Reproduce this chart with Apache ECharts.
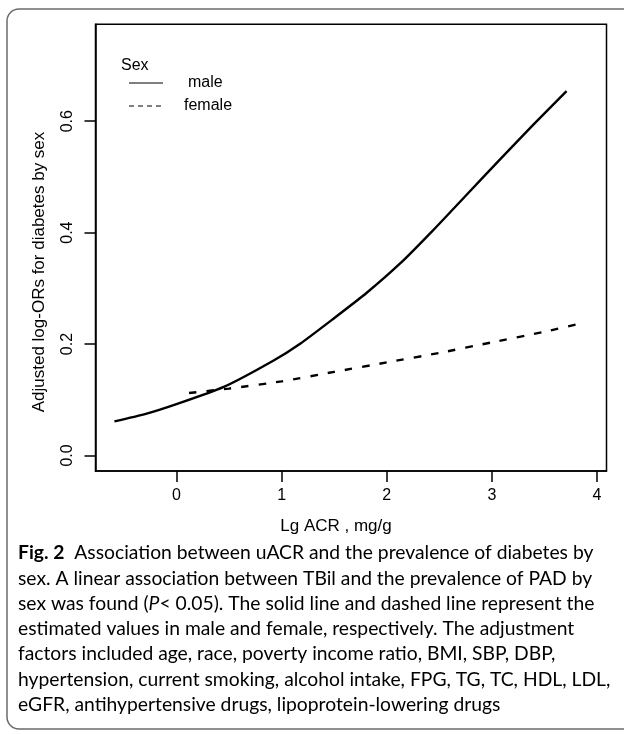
<!DOCTYPE html>
<html lang="en">
<head>
    <meta charset="UTF-8">
    <title>Fig. 2</title>
    <script src="https://cdn.jsdelivr.net/npm/echarts@6/dist/echarts.min.js"></script>
    <style type="text/css">
        *{
            padding: 0px;
            margin: 0px;
            border: 0px;
        }
        #main{
            width: 624px;
            height: 734px;
            background: #fff;
        }
    </style>
</head>
<body>
<div id="main"></div>
<script>
    // data
    var maleX = [-0.59, -0.3, 0, 0.45, 0.92, 1.18, 1.49, 1.81, 2.13, 2.44, 2.76, 3.08, 3.39, 3.71];
    var maleY = [0.061, 0.074, 0.092, 0.123, 0.170, 0.201, 0.245, 0.292, 0.345, 0.404, 0.468, 0.532, 0.593, 0.654];
    var femaleX = [0.12, 0.5, 1.0, 1.5, 2.0, 2.5, 3.0, 3.5, 3.87];
    var femaleY = [0.112, 0.120, 0.133, 0.150, 0.167, 0.184, 0.203, 0.222, 0.238];
    var xTicks = [0, 1, 2, 3, 4];
    var yTicks = [0, 0.2, 0.4, 0.6];

    var captionLines = [
        '{b|Fig. 2}{t|  Association between uACR and the prevalence of diabetes by}',
        '{t|sex. A linear association between TBil and the prevalence of PAD by}',
        '{t|sex was found (}{i|P}{t|< 0.05). The solid line and dashed line represent the}',
        '{t|estimated values in male and female, respectively. The adjustment}',
        '{t|factors included age, race, poverty income ratio, BMI, SBP, DBP,}',
        '{t|hypertension, current smoking, alcohol intake, FPG, TG, TC, HDL, LDL,}',
        '{t|eGFR, antihypertensive drugs, lipoprotein-lowering drugs}'
    ];

    function pairs(xs, ys) {
        var out = [];
        for (var i = 0; i < xs.length; i++) out.push([xs[i], ys[i]]);
        return out;
    }

    var capFont = 'Lato, "Open Sans", sans-serif';
    var capRich = {
        t: {fontFamily: capFont, fontSize: 19.3, color: '#231f20'},
        b: {fontFamily: capFont, fontSize: 19.3, fontWeight: 'bold', color: '#231f20'},
        i: {fontFamily: capFont, fontSize: 19.3, fontStyle: 'italic', color: '#231f20'}
    };

    var graphics = [
        // rounded frame round the figure
        {type: 'rect', shape: {x: 7, y: 9, width: 640, height: 720, r: 12},
            style: {fill: 'none', stroke: '#6b6b6b', lineWidth: 1.5}, z: 0},
        // legend
        {type: 'text', x: 121, y: 66, style: {text: 'Sex', font: '16px "Liberation Sans", Arial', fill: '#000', verticalAlign: 'middle'}},
        {type: 'line', shape: {x1: 129, y1: 83, x2: 163, y2: 83}, style: {stroke: '#000', lineWidth: 1.2}},
        {type: 'text', x: 188, y: 83, style: {text: 'male', font: '16px "Liberation Sans", Arial', fill: '#000', verticalAlign: 'middle'}},
        {type: 'line', shape: {x1: 129, y1: 106, x2: 163, y2: 106}, style: {stroke: '#000', lineWidth: 1.2, lineDash: [5, 4]}},
        {type: 'text', x: 184, y: 106, style: {text: 'female', font: '16px "Liberation Sans", Arial', fill: '#000', verticalAlign: 'middle'}},
        // axis titles
        {type: 'text', x: 39, y: 272, rotation: Math.PI / 2,
            style: {text: 'Adjusted log-ORs for diabetes by sex', font: '17px "Liberation Sans", Arial', fill: '#000', align: 'center', verticalAlign: 'middle'}},
        {type: 'text', x: 336, y: 526,
            style: {text: 'Lg ACR , mg/g', font: '17px "Liberation Sans", Arial', fill: '#000', align: 'center', verticalAlign: 'middle'}}
    ];
    for (var k = 0; k < captionLines.length; k++) {
        graphics.push({type: 'text', x: 18, y: 553 + k * 25.3,
            style: {text: captionLines[k], rich: capRich, verticalAlign: 'middle'}});
    }

    var chart = echarts.init(document.getElementById('main'));
    chart.setOption({
        animation: false,
        grid: {
            left: 95.5, right: 17.5, top: 24.3, bottom: 263,
            show: true, borderColor: '#000', borderWidth: 1.5, backgroundColor: 'transparent'
        },
        xAxis: {
            type: 'value', min: -0.77, max: 4.09,
            axisLine: {show: true, onZero: false, lineStyle: {color: '#000', width: 1.5}},
            axisTick: {show: true, inside: false, length: 11, customValues: xTicks, lineStyle: {color: '#000', width: 1.5}},
            axisLabel: {customValues: xTicks, fontSize: 16, fontFamily: '"Liberation Sans", Arial', color: '#000', margin: 17},
            splitLine: {show: false}
        },
        yAxis: {
            type: 'value', min: -0.028, max: 0.774,
            axisLine: {show: true, onZero: false, lineStyle: {color: '#000', width: 1.5}},
            axisTick: {show: true, inside: false, length: 11, customValues: yTicks, lineStyle: {color: '#000', width: 1.5}},
            axisLabel: {customValues: yTicks, rotate: 90, fontSize: 16, fontFamily: '"Liberation Sans", Arial', color: '#000', margin: 20,
                formatter: function (v) { return v.toFixed(1); }},
            splitLine: {show: false}
        },
        series: [
            {name: 'male', type: 'line', data: pairs(maleX, maleY), showSymbol: false, smooth: 0.2,
                lineStyle: {color: '#000', width: 2.4, type: 'solid', join: 'round'}},
            {name: 'female', type: 'line', data: pairs(femaleX, femaleY), showSymbol: false, smooth: 0.2,
                lineStyle: {color: '#000', width: 2.4, type: [7.5, 10]}}
        ],
        graphic: graphics
    });
</script>
</body>
</html>
